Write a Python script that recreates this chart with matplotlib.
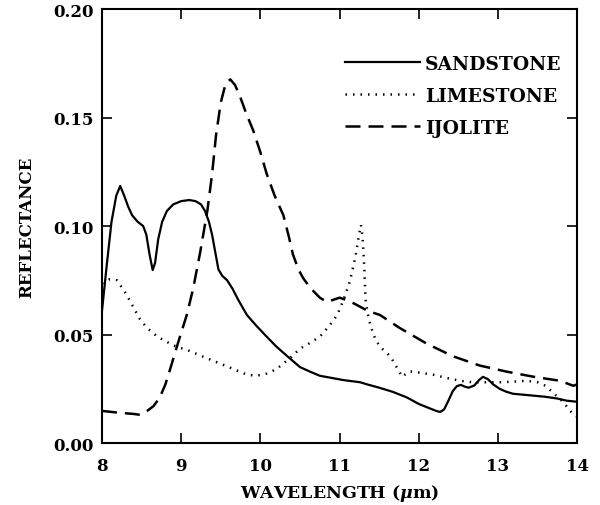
import matplotlib
matplotlib.use("Agg")
import matplotlib.pyplot as plt

plt.rcParams["font.family"] = "DejaVu Serif"
plt.rcParams["font.weight"] = "bold"
plt.rcParams["mathtext.fontset"] = "dejavuserif"

# spectra (wavelength in um, reflectance)
sand_x = [8.0, 8.06, 8.12, 8.18, 8.23, 8.28, 8.33, 8.38, 8.45, 8.52, 8.56, 8.6,
          8.64, 8.67, 8.71, 8.76, 8.82, 8.9, 9.0, 9.1, 9.18, 9.25, 9.3, 9.35,
          9.39, 9.43, 9.47, 9.52, 9.58, 9.65, 9.72, 9.83, 9.95, 10.08, 10.2,
          10.34, 10.42, 10.5, 10.62, 10.75, 10.9, 11.05, 11.26, 11.35, 11.5,
          11.67, 11.85, 12.0, 12.15, 12.22, 12.27, 12.32, 12.38, 12.43, 12.48,
          12.53, 12.58, 12.63, 12.7, 12.76, 12.81, 12.87, 12.94, 13.02, 13.1,
          13.19, 13.4, 13.6, 13.75, 13.87, 14.0]
sand_y = [0.061, 0.082, 0.102, 0.114, 0.1185, 0.114, 0.109, 0.105, 0.102, 0.100,
          0.096, 0.087, 0.0797, 0.083, 0.094, 0.102, 0.107, 0.110, 0.1115,
          0.112, 0.1115, 0.110, 0.107, 0.102, 0.096, 0.088, 0.080, 0.077,
          0.075, 0.071, 0.066, 0.059, 0.054, 0.049, 0.0445, 0.040, 0.0375,
          0.035, 0.033, 0.031, 0.030, 0.029, 0.028, 0.027, 0.0255, 0.0236,
          0.021, 0.018, 0.0158, 0.0148, 0.0143, 0.0155, 0.020, 0.024, 0.0262,
          0.0268, 0.026, 0.0255, 0.0265, 0.029, 0.0305, 0.0295, 0.027, 0.025,
          0.0237, 0.0227, 0.022, 0.0213, 0.0205, 0.0195, 0.019]

lime_x = [8.0, 8.1, 8.19, 8.3, 8.39, 8.48, 8.57, 8.7, 8.9, 9.1, 9.33, 9.6,
          9.83, 9.95, 10.08, 10.2, 10.29, 10.4, 10.5, 10.62, 10.75, 10.87,
          10.97, 11.05, 11.13, 11.2, 11.25, 11.27, 11.29, 11.31, 11.33, 11.37,
          11.4, 11.45, 11.51, 11.58, 11.64, 11.72, 11.79, 11.84, 11.89, 12.0,
          12.18, 12.35, 12.52, 12.68, 12.85, 13.02, 13.2, 13.36, 13.5, 13.6,
          13.7, 13.82, 13.92, 14.0]
lime_y = [0.0736, 0.0755, 0.075, 0.069, 0.063, 0.057, 0.053, 0.049, 0.045,
          0.0425, 0.039, 0.035, 0.0315, 0.031, 0.032, 0.034, 0.0366, 0.040,
          0.0435, 0.046, 0.049, 0.054, 0.059, 0.066, 0.0745, 0.086, 0.097,
          0.1005, 0.095, 0.082, 0.065, 0.057, 0.053, 0.048, 0.0444, 0.042,
          0.040, 0.035, 0.0305, 0.032, 0.033, 0.0325, 0.0315, 0.030, 0.0287,
          0.028, 0.028, 0.028, 0.0283, 0.0287, 0.028, 0.0264, 0.023, 0.019,
          0.0145, 0.012]

ijol_x = [8.0, 8.2, 8.4, 8.48, 8.56, 8.65, 8.73, 8.8, 8.86, 8.95, 9.07, 9.15,
          9.24, 9.33, 9.39, 9.44, 9.5, 9.56, 9.62, 9.68, 9.74, 9.82, 9.91,
          10.0, 10.08, 10.18, 10.29, 10.36, 10.41, 10.48, 10.54, 10.6, 10.67,
          10.75, 10.84, 10.92, 11.0, 11.08, 11.13, 11.25, 11.35, 11.51, 11.76,
          12.1, 12.43, 12.77, 13.11, 13.44, 13.78, 13.95, 14.0]
ijol_y = [0.0148, 0.014, 0.0134, 0.013, 0.0145, 0.017, 0.021, 0.027, 0.034,
          0.045, 0.059, 0.071, 0.088, 0.107, 0.124, 0.142, 0.157, 0.1655,
          0.1676, 0.165, 0.160, 0.152, 0.144, 0.134, 0.124, 0.114, 0.105,
          0.095, 0.087, 0.080, 0.076, 0.073, 0.070, 0.067, 0.065, 0.066,
          0.067, 0.066, 0.0653, 0.063, 0.061, 0.059, 0.053, 0.0458, 0.040,
          0.0357, 0.0329, 0.0306, 0.0287, 0.0264, 0.027]

fig = plt.figure(figsize=(6.0, 5.06), dpi=100)
ax = fig.add_axes([0.17, 0.1225, 0.792, 0.8575])

ax.plot(sand_x, sand_y, color="black", lw=1.6, ls="-", label="SANDSTONE")
ax.plot(lime_x, lime_y, color="black", lw=1.8, ls=(0, (0.6, 2.4)), label="LIMESTONE")
ax.plot(ijol_x, ijol_y, color="black", lw=1.8, ls=(0, (6, 3.2)), label="IJOLITE")

ax.set_xlim(8, 14)
ax.set_ylim(0, 0.20)
ax.set_xticks(range(8, 15))
ax.set_yticks([0.0, 0.05, 0.10, 0.15, 0.20])
ax.set_yticklabels(["0.00", "0.05", "0.10", "0.15", "0.20"])
ax.tick_params(direction="in", length=7, width=1.2, top=True, right=True,
               labelsize=12)
ax.tick_params(axis="x", pad=10)
ax.tick_params(axis="y", pad=6)
for s in ax.spines.values():
    s.set_linewidth(1.5)

ax.set_xlabel(r"WAVELENGTH ($\mu$m)", fontsize=12.5, fontweight="bold", labelpad=6)
ax.set_ylabel("REFLECTANCE", fontsize=12, fontweight="bold", labelpad=13)

leg = ax.legend(loc="upper right", bbox_to_anchor=(0.995, 0.925), frameon=False,
                fontsize=13.5, handlelength=4.0, handletextpad=0.25,
                labelspacing=0.75, borderaxespad=0.3)

fig.savefig("out.png", dpi=100)
